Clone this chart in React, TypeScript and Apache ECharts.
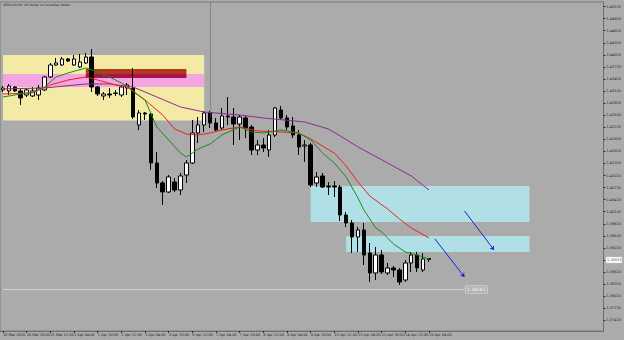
import React, { useEffect, useRef } from 'react';
import * as echarts from 'echarts';

const chartTitle = 'USDCAD,H4: US Dollar vs Canadian Dollar';
const timeLabels = [
  '30 Mar 2020', '30 Mar 20:00', '31 Mar 12:00', '1 Apr 04:00', '1 Apr 20:00', '2 Apr 12:00',
  '3 Apr 04:00', '3 Apr 20:00', '6 Apr 12:00', '7 Apr 04:00', '7 Apr 20:00', '8 Apr 12:00',
  '9 Apr 04:00', '9 Apr 20:00', '10 Apr 12:00', '13 Apr 04:00', '13 Apr 20:00', '14 Apr 12:00',
  '15 Apr 04:00',
];
const priceTicks = [
  1.4522, 1.4492, 1.4462, 1.4432, 1.4402, 1.4372, 1.4342, 1.4312, 1.4282, 1.4252, 1.4222,
  1.4192, 1.4162, 1.4132, 1.4102, 1.4072, 1.4042, 1.4012, 1.3982, 1.3952, 1.3922, 1.3892,
  1.3862, 1.3832, 1.3802, 1.3772, 1.3742,
];

const opens = [
  1.43147, 1.43122, 1.43221, 1.43122, 1.43022, 1.42998, 1.43022, 1.43147, 1.4347, 1.43768,
  1.43768, 1.43918, 1.43768, 1.43719, 1.43818, 1.43967, 1.43221, 1.42998, 1.43047, 1.43072,
  1.43022, 1.43196, 1.43196, 1.42277, 1.42575, 1.4255, 1.41332, 1.40835, 1.40611, 1.40859,
  1.40661, 1.41033, 1.41332, 1.42078, 1.42277, 1.42575, 1.42326, 1.42202, 1.425, 1.42475,
  1.42301, 1.42451, 1.42227, 1.41655, 1.41779, 1.41655, 1.42028, 1.42649, 1.42451, 1.42252,
  1.42028, 1.41754, 1.41779, 1.40835, 1.41009, 1.4076, 1.4076, 1.40735, 1.40039, 1.3984,
  1.39492, 1.39666, 1.39095, 1.38597, 1.39045, 1.38597, 1.38722, 1.38672, 1.38423, 1.38846,
  1.39045, 1.38672, 1.38958,
];
const closes = [
  1.43196, 1.43246, 1.43122, 1.42948, 1.43147, 1.43122, 1.43196, 1.4347, 1.43768, 1.43818,
  1.43918, 1.43868, 1.43918, 1.43843, 1.43967, 1.43221, 1.43047, 1.43047, 1.43022, 1.4306,
  1.43221, 1.43271, 1.42475, 1.42575, 1.4255, 1.41332, 1.40835, 1.40611, 1.40984, 1.40661,
  1.41009, 1.41332, 1.42078, 1.42277, 1.42575, 1.42326, 1.42152, 1.425, 1.42475, 1.42301,
  1.42475, 1.42202, 1.41655, 1.41779, 1.41705, 1.42028, 1.42699, 1.42451, 1.42227, 1.42028,
  1.4173, 1.41779, 1.40785, 1.40984, 1.40735, 1.40735, 1.40735, 1.40039, 1.3984, 1.39492,
  1.39666, 1.39045, 1.38597, 1.39045, 1.38622, 1.38722, 1.38672, 1.38374, 1.38846, 1.39045,
  1.38722, 1.38945, 1.38933,
];
const lows = [
  1.43097, 1.43022, 1.43097, 1.42774, 1.42973, 1.42973, 1.42898, 1.43122, 1.43445, 1.43744,
  1.43744, 1.43843, 1.43744, 1.43694, 1.43793, 1.43097, 1.42998, 1.42898, 1.42948, 1.42998,
  1.42973, 1.43022, 1.42426, 1.42152, 1.42401, 1.41158, 1.4071, 1.40288, 1.40586, 1.40611,
  1.40536, 1.40835, 1.41307, 1.41829, 1.42103, 1.42202, 1.42103, 1.42152, 1.42277, 1.41779,
  1.41904, 1.41953, 1.41531, 1.41531, 1.41605, 1.41481, 1.41978, 1.42401, 1.42152, 1.41953,
  1.41531, 1.41357, 1.40735, 1.40735, 1.4071, 1.40536, 1.40486, 1.3989, 1.39741, 1.39095,
  1.39119, 1.38796, 1.38374, 1.38423, 1.38572, 1.38548, 1.38498, 1.38299, 1.38374, 1.38622,
  1.38622, 1.38622, 1.38871,
];
const highs = [
  1.43246, 1.43296, 1.43246, 1.43172, 1.43196, 1.43221, 1.43271, 1.43495, 1.43818, 1.43943,
  1.43967, 1.43943, 1.44017, 1.44042, 1.44067, 1.44166, 1.43246, 1.43097, 1.43196, 1.43147,
  1.43271, 1.43321, 1.43694, 1.42649, 1.426, 1.426, 1.41605, 1.40884, 1.41033, 1.40959,
  1.41083, 1.41406, 1.42401, 1.42475, 1.42625, 1.42625, 1.42451, 1.42699, 1.42973, 1.42699,
  1.42525, 1.425, 1.42277, 1.41904, 1.41953, 1.42152, 1.42724, 1.42749, 1.42525, 1.42475,
  1.42152, 1.41904, 1.41829, 1.41108, 1.41083, 1.40859, 1.40884, 1.40785, 1.40114, 1.39915,
  1.39741, 1.3984, 1.39343, 1.39244, 1.39169, 1.38846, 1.38772, 1.38722, 1.3892, 1.39119,
  1.39119, 1.39095, 1.3897,
];

const fastIdx = [0, 5, 7, 9, 11, 14, 16, 18, 21, 23, 24, 26, 28, 30, 31, 33, 35, 37, 40, 42, 44, 47, 50, 52, 54, 56, 58, 60, 61, 63, 64, 66, 68, 70, 72];
const fastVal = [
  1.42973, 1.43097, 1.43221, 1.4347, 1.43569, 1.43694, 1.43594, 1.4347, 1.43246, 1.42998,
  1.42898, 1.42227, 1.41904, 1.4158, 1.41481, 1.4168, 1.41804, 1.42028, 1.42227, 1.42103,
  1.42078, 1.42152, 1.42078, 1.41904, 1.4158, 1.41332, 1.40984, 1.40462, 1.40163, 1.39716,
  1.39617, 1.39318, 1.39119, 1.39045, 1.38945,
];
const midIdx = [0, 5, 8, 11, 14, 16, 19, 21, 24, 27, 29, 31, 33, 35, 37, 40, 43, 47, 50, 52, 56, 58, 60, 62, 65, 67, 69, 72];
const midVal = [
  1.43047, 1.43072, 1.43271, 1.43395, 1.4347, 1.43395, 1.43271, 1.43221, 1.42898, 1.42525,
  1.42177, 1.42053, 1.42028, 1.42078, 1.42152, 1.42227, 1.42127, 1.42103, 1.42078, 1.41928,
  1.4158, 1.41257, 1.40859, 1.40511, 1.40188, 1.3994, 1.39716, 1.39468,
];
const slowIdx = [0, 7, 14, 18, 22, 26, 30, 34, 40, 44, 51, 55, 57, 60, 65, 69, 72];
const slowVal = [
  1.43172, 1.43196, 1.43296, 1.43296, 1.43221, 1.42973, 1.42724, 1.426, 1.42525, 1.42451,
  1.42351, 1.42177, 1.42003, 1.4173, 1.41332, 1.41009, 1.40661,
];

const bidPrice = 1.38933;
const supportPrice = 1.38187;

const FONT = 'DejaVu Sans';

export default function App() {
  const ref = useRef<HTMLDivElement>(null);
  useEffect(() => {
    document.body.style.margin = '0';
    document.body.style.background = '#ababab';
    if (!ref.current) return;
    const chart = echarts.init(ref.current, null, { renderer: 'svg' });
    const N = 102;
    const cats = Array.from({ length: N }, (_, i) => 'b' + i);
    const candles = opens.map((o, i) => [o, closes[i], lows[i], highs[i]]);
    const pairs = (idx: number[], val: number[]) => idx.map((x, k) => [x, val[k]]);
    const area = (x1: number, y1: number, x2: number, y2: number, color: string) => [
      { xAxis: x1, yAxis: y1, itemStyle: { color, opacity: 1 } },
      { xAxis: x2, yAxis: y2 },
    ];
    chart.setOption({
      animation: false,
      backgroundColor: '#ababab',
      title: {
        text: chartTitle, left: 3, top: 3, padding: 0,
        textStyle: { fontSize: 3.2, fontWeight: 'normal', color: '#1a1a1a', fontFamily: FONT },
      },
      grid: { left: 0, right: 20, top: 2, bottom: 9, show: true, borderColor: '#7c7c7c', borderWidth: 1, backgroundColor: 'transparent' },
      xAxis: {
        type: 'category', data: cats, boundaryGap: true,
        axisLine: { show: true, lineStyle: { color: '#6e6e6e', width: 1 } },
        axisTick: { show: true, length: 2, alignWithLabel: true, interval: (i: number) => i % 4 === 0 && i / 4 < timeLabels.length, lineStyle: { color: '#333' } },
        axisLabel: {
          interval: (i: number) => i % 4 === 0 && i / 4 < timeLabels.length,
          formatter: (_v: string, i: number) => (i % 4 === 0 && i / 4 < timeLabels.length ? timeLabels[i / 4] : ''),
          fontSize: 3.5, color: '#1a1a1a', align: 'left', margin: 2, fontFamily: FONT,
        },
        splitLine: { show: false },
      },
      yAxis: {
        type: 'value', position: 'right', min: 1.37155, max: 1.45334, scale: true,
        axisLine: { show: true, lineStyle: { color: '#6e6e6e', width: 1 } },
        axisTick: { show: true, length: 2, customValues: priceTicks, lineStyle: { color: '#333' } },
        axisLabel: { customValues: priceTicks, fontSize: 3.5, color: '#1a1a1a', margin: 3, fontFamily: FONT, formatter: (v: number) => v.toFixed(5) },
        splitLine: { show: false },
      },
      series: [
        {
          type: 'line', data: [], z: 1, silent: true,
          markArea: {
            silent: true,
            label: { show: false },
            data: [
              area(-0.5, 1.44017, 33.8, 1.42386, '#f3eaa6'),
              area(-0.5, 1.43544, 33.8, 1.43221, '#f2a5e0'),
              area(13.7, 1.43669, 31, 1.43544, '#b3391c'),
              area(13.7, 1.43544, 31, 1.43445, '#a8124c'),
              area(52, 1.4076, 89.4, 1.39865, '#b0e0e6'),
              area(58.1, 1.39517, 89.4, 1.39119, '#b0e0e6'),
            ],
          },
        },
        {
          type: 'candlestick', data: candles, barWidth: 4, z: 3,
          itemStyle: { color: '#ffffff', color0: '#000000', borderColor: '#000000', borderColor0: '#000000', borderWidth: 1 },
          markLine: {
            silent: true, symbol: 'none', animation: false,
            data: [
              [
                { coord: [-0.5, bidPrice], lineStyle: { color: '#8a8a8a', width: 1, type: 'solid' }, label: { show: false } },
                { coord: [101.5, bidPrice] },
              ],
              [
                { coord: [-0.5, supportPrice], lineStyle: { color: '#d2d2d2', width: 1, type: 'solid' },
                  label: { show: true, position: 'end', formatter: '1.38187', fontSize: 4.5, color: '#f4f4f4', backgroundColor: '#b4b4b4', borderColor: '#e6e6e6', borderWidth: 0.5, padding: [1, 1.5], distance: 1, fontFamily: FONT } },
                { coord: [78.2, supportPrice] },
              ],
              [
                { coord: [35, 1.4533], lineStyle: { color: '#606060', width: 1, type: 'dotted' }, label: { show: false } },
                { coord: [35, 1.4245] },
              ],
              [
                { coord: [78.4, 1.40139], symbol: 'none', lineStyle: { color: '#1f1fd8', width: 1, type: 'solid' }, label: { show: false } },
                { coord: [83.3, 1.39169], symbol: 'arrow', symbolSize: 4 },
              ],
              [
                { coord: [73.2, 1.39443], symbol: 'none', lineStyle: { color: '#1f1fd8', width: 1, type: 'solid' }, label: { show: false } },
                { coord: [78.4, 1.38498], symbol: 'arrow', symbolSize: 4 },
              ],
            ],
          },
        },
        { type: 'line', data: pairs(slowIdx, slowVal), z: 4, showSymbol: false, connectNulls: true, lineStyle: { color: '#8e2a90', width: 1 }, itemStyle: { color: '#8e2a90' } },
        { type: 'line', data: pairs(midIdx, midVal), z: 4, showSymbol: false, connectNulls: true, lineStyle: { color: '#e8231e', width: 1 }, itemStyle: { color: '#e8231e' } },
        { type: 'line', data: pairs(fastIdx, fastVal), z: 4, showSymbol: false, connectNulls: true, lineStyle: { color: '#1b8a1b', width: 1 }, itemStyle: { color: '#1b8a1b' } },
      ],
      graphic: [
        {
          type: 'rect', shape: { x: 606, y: 257, width: 16, height: 6 }, z: 100,
          style: { fill: '#ffffff', stroke: '#d0d0d0', lineWidth: 0.5 },
        },
        {
          type: 'text', x: 607, y: 260, z: 101,
          style: { text: bidPrice.toFixed(5), fontSize: 3.5, fill: '#555555', fontFamily: FONT, verticalAlign: 'middle' },
        },
      ],
    });
    return () => chart.dispose();
  }, []);
  return <div ref={ref} style={{ width: 624, height: 340, background: '#ababab' }} />;
}
